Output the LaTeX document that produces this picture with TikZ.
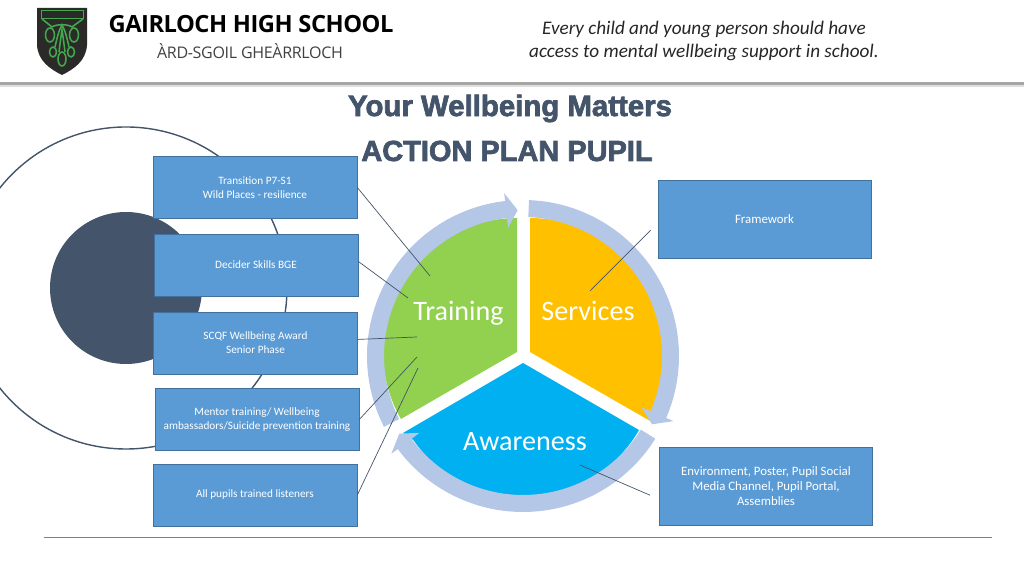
\documentclass[tikz,border=0pt]{standalone}
\usepackage{fontspec}
\setmainfont{Carlito}
\newfontfamily\headfont[LetterSpace=-2]{Open Sans}
\newfontfamily\titlefont[FakeBold=2.4]{Liberation Sans Bold}
\usetikzlibrary{positioning}

\definecolor{boxblue}{HTML}{5B9BD5}
\definecolor{boxedge}{HTML}{41719C}
\definecolor{slate}{HTML}{44546A}
\definecolor{ringblue}{HTML}{B4C7E7}
\definecolor{pgreen}{HTML}{92D050}
\definecolor{pyellow}{HTML}{FFC000}
\definecolor{pblue}{HTML}{00B0F0}
\definecolor{shieldgreen}{HTML}{45A84E}
\definecolor{shielddark}{HTML}{2A2B28}

\tikzset{
    planbox/.style={draw=boxedge, fill=boxblue, text=white, align=center, inner sep=0pt,
        minimum width=5.1cm, minimum height=1.55cm, font=\fontsize{8}{10}\selectfont},
    sidebox/.style={planbox, minimum width=5.33cm, minimum height=1.94cm, font=\fontsize{9.1}{10.9}\selectfont},
    callout/.style={draw=slate, line width=0.5pt},
    pielabel/.style={text=white, anchor=base, font=\fontsize{20}{24}\selectfont},
    knot/.style={draw=shieldgreen, line width=1.1pt}
}

\begin{document}
\begin{tikzpicture}[x=0.025cm, y=0.025cm]
    \useasboundingbox (0, 0) rectangle (1024, 576);

    % header
    \fill[gray!70] (0, 491) rectangle (1024, 494);
    \fill[gray!25] (0, 489) rectangle (1024, 491);
    \draw[gray, line width=0.5pt] (44, 39) -- (992, 39);

    % shield
    \fill[shielddark] (37, 568) -- (87, 568) -- (87, 531) .. controls (86, 515) and (74, 507) .. (62, 501)
        .. controls (50, 507) and (38, 515) .. (37, 531) -- cycle;
    \draw[knot, line width=0.7pt] (41, 565) rectangle (83, 557);
    \draw[knot] (42, 557) -- (52, 549) .. controls (56, 552) and (68, 552) .. (72, 549) -- (83, 557);
    \foreach \cx/\cy/\rx/\ry in {50/541/4.5/7, 74/541/4.5/7, 53/524/3.5/5, 71/524/3.5/5, 62/517/4/7} {
        \draw[knot] (\cx, \cy) ellipse [x radius=\rx, y radius=\ry];
    }
    \draw[knot] (55, 529) .. controls (57, 538) and (59, 546) .. (62, 551) .. controls (65, 546) and (67, 538) .. (69, 529);
    \draw[knot] (59, 524) .. controls (60, 532) and (61, 540) .. (62, 546) .. controls (63, 540) and (64, 532) .. (65, 524);

    \node[font=\headfont\bfseries\fontsize{16.85}{20}\selectfont, text=black] (school) at (251, 552) {GAIRLOCH HIGH SCHOOL};
    \node[font=\headfont\fontsize{11.4}{13}\selectfont, text=black!75] (gaelic) at (250, 525) {ÀRD-SGOIL GHEÀRRLOCH};
    \node[font=\itshape\fontsize{13.65}{16.3}\selectfont, align=center, text=black!85] (motto) at (704, 535)
        {Every child and young person should have\\access to mental wellbeing support in school.};

    \node[font=\titlefont\fontsize{20.9}{24}\selectfont, text=slate] (title) at (510, 467.5) {Your Wellbeing Matters};
    \node[font=\titlefont\fontsize{20.6}{24}\selectfont, text=slate] (plan) at (507, 425) {ACTION PLAN PUPIL};

    % circles behind the boxes
    \draw[slate, line width=1pt] (126, 288) circle (161);
    \fill[slate] (126, 288) circle (76);

    % pies
    \fill[pgreen] (517, 224) -- (517, 358) arc[start angle=90, end angle=210, radius=134] -- cycle;
    \fill[pyellow] (530, 224) -- (530, 358) arc[start angle=90, end angle=-23, radius=134] -- (652, 154) -- cycle;
    \fill[pblue] (523, 213) -- (403, 143) -- (413.2, 136.1) arc[start angle=215, end angle=330, radius=134] -- cycle;

    % arrows round the pies
    \foreach \a/\b in {207/96.6, 87.8/-23.4, -32/-143.4} {
        \fill[ringblue, shift={(523, 220)}] (\a:156) arc[start angle=\a, end angle=\b, radius=156]
            -- (\b:164) -- (\b-4.5:146) -- (\b:129) -- (\b:139)
            arc[start angle=\b, end angle=\a, radius=139] -- cycle;
    }

    \node[pielabel] (training) at (458.5, 255) {Training};
    \node[pielabel] (services) at (588, 255) {Services};
    \node[pielabel] (awareness) at (525, 125) {Awareness};

    % boxes
    \node[planbox] (transition) at (255, 388.5) {Transition P7-S1\\Wild Places - resilience};
    \node[planbox] (decider) at (256, 311) {Decider Skills BGE};
    \node[planbox] (scqf) at (255.5, 233) {SCQF Wellbeing Award\\Senior Phase};
    \node[planbox] (mentor) at (257, 156.5) {Mentor training/ Wellbeing\\ambassadors/Suicide prevention training};
    \node[planbox] (listeners) at (255, 81) {All pupils trained listeners};
    \node[sidebox] (framework) at (764.5, 356.5) {Framework};
    \node[sidebox] (environment) at (766, 90) {Environment, Poster, Pupil Social\\Media Channel, Pupil Portal,\\Assemblies};

    % callouts
    \coordinate (transitionend) at (430, 300);
    \coordinate (deciderend) at (408, 278);
    \coordinate (scqfend) at (417, 239);
    \coordinate (mentorend) at (417, 219);
    \coordinate (listenersend) at (418, 208);
    \coordinate (frameworkend) at (590, 285);
    \coordinate (environmentend) at (580, 111);

    \draw[callout] (transition.east) -- (transitionend);
    \draw[callout] (decider.2) -- (deciderend);
    \draw[callout] (scqf.2) -- (scqfend);
    \draw[callout] (mentor.east) -- (mentorend);
    \draw[callout] (listeners.east) -- (listenersend);
    \draw[callout, shorten <=7pt] (framework.182) -- (frameworkend);
    \draw[callout, shorten <=7pt] (environment.187.5) -- (environmentend);
\end{tikzpicture}
\end{document}
